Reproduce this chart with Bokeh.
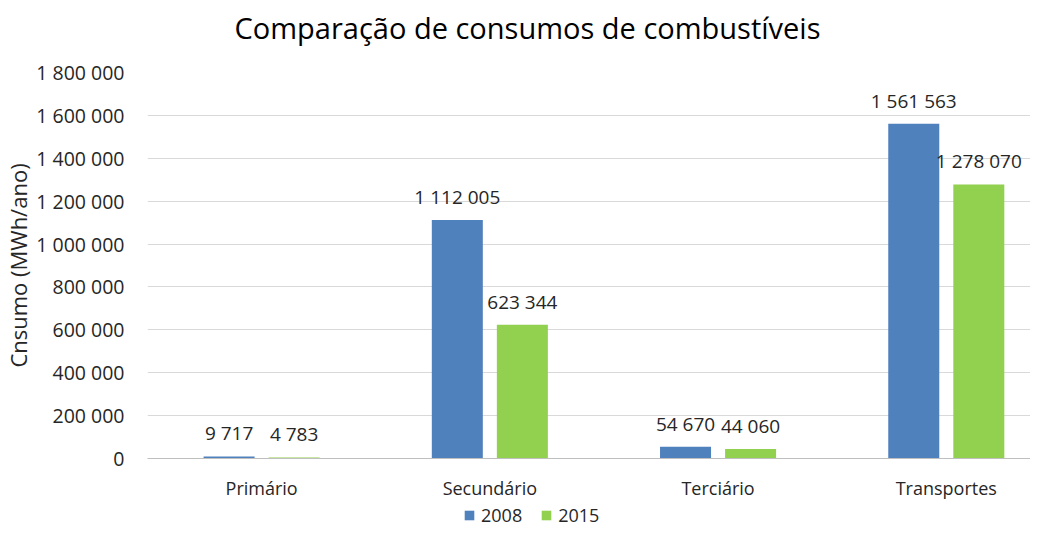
from bokeh.plotting import figure
from bokeh.layouts import column
from bokeh.models import ColumnDataSource, FixedTicker, Legend, LegendItem, Range1d, Label
from bokeh.core.properties import value
from bokeh.embed import file_html
from bokeh.resources import INLINE

title_text = "Comparação de consumos de combustíveis"
y_axis_label = "Cnsumo (MWh/ano)"
categories = ["Primário", "Secundário", "Terciário", "Transportes"]
years = ["2008", "2015"]
values_2008 = [9717, 1112005, 54670, 1561563]
values_2015 = [4783, 623344, 44060, 1278070]
y_ticks = [0, 200000, 400000, 600000, 800000, 1000000, 1200000, 1400000, 1600000, 1800000]
y_tick_labels = ["0", "200 000", "400 000", "600 000", "800 000", "1 000 000",
                 "1 200 000", "1 400 000", "1 600 000", "1 800 000"]

FONT = "Open Sans"
TEXT = "#262626"
colors = ["#4F81BD", "#92D050"]

def fmt(v):
    return f"{v:,}".replace(",", " ")

def strip(h):
    f = figure(width=1030, height=h, x_range=Range1d(-0.5, 3.369), y_range=Range1d(0, 1800000),
               output_backend="svg", toolbar_location=None,
               x_axis_location=None, y_axis_location=None,
               min_border_left=0, min_border_right=0, min_border_top=0, min_border_bottom=0)
    f.outline_line_color = None
    f.xgrid.grid_line_color = None
    f.ygrid.grid_line_color = None
    return f

# strip above the chart carrying the title
head = strip(50)
head.add_layout(Label(x=380, y=23, x_units="screen", y_units="screen", text=title_text,
                      text_align="center", text_baseline="middle", text_font=FONT,
                      text_font_size="29px", text_color="#000000"))

p = figure(width=1030, height=453,
           x_range=Range1d(-0.5, 3.369), y_range=Range1d(0, 1800000),
           output_backend="svg", toolbar_location=None,
           min_border_left=100, min_border_right=0,
           min_border_top=22, min_border_bottom=45)
p.outline_line_color = None
p.background_fill_color = "white"
p.border_fill_color = "white"

# strip below the chart carrying the legend
leg = strip(24)

xs = list(range(len(categories)))
offset = 0.1425
bw = 0.2235
leg_renderers = []
for k, (yr, vals) in enumerate(zip(years, [values_2008, values_2015])):
    dx = -offset if k == 0 else offset
    src = ColumnDataSource(dict(x=[x + dx for x in xs], top=vals,
                                lab=[fmt(v) for v in vals]))
    p.vbar(x="x", top="top", width=bw, source=src, fill_color=colors[k], line_color=None)
    p.text(x="x", y="top", text="lab", source=src, text_align="center",
           text_baseline="alphabetic", y_offset=-23, text_font=value(FONT),
           text_font_size="19px", text_color=TEXT)
    # legend swatch source only (not drawn in the strip)
    leg_renderers.append(leg.vbar(x="x", top="top", width=bw, source=src,
                                  fill_color=colors[k], line_color=None, visible=False))

# axes
p.xaxis.ticker = FixedTicker(ticks=xs)
p.xaxis.major_label_overrides = {i: c for i, c in enumerate(categories)}
p.xaxis.major_tick_line_color = None
p.xaxis.minor_tick_line_color = None
p.xaxis.axis_line_color = "#BFBFBF"
p.xaxis.axis_line_width = 1
p.xaxis.major_label_text_font = FONT
p.xaxis.major_label_text_font_size = "18px"
p.xaxis.major_label_text_color = TEXT
p.xaxis.major_label_standoff = 11

p.yaxis.ticker = FixedTicker(ticks=y_ticks)
p.yaxis.major_label_overrides = {t: l for t, l in zip(y_ticks, y_tick_labels)}
p.yaxis.axis_line_color = None
p.yaxis.major_tick_line_color = None
p.yaxis.minor_tick_line_color = None
p.yaxis.major_label_text_font = FONT
p.yaxis.major_label_text_font_size = "19.5px"
p.yaxis.major_label_text_color = TEXT
p.yaxis.major_label_standoff = 17
p.yaxis.axis_label = y_axis_label
p.yaxis.axis_label_text_font = FONT
p.yaxis.axis_label_text_font_size = "22px"
p.yaxis.axis_label_text_font_style = "normal"
p.yaxis.axis_label_text_color = TEXT
p.yaxis.axis_label_standoff = 0

p.xgrid.grid_line_color = None
p.ygrid.ticker = FixedTicker(ticks=y_ticks[1:])
p.ygrid.grid_line_color = "#D9D9D9"
p.ygrid.grid_line_width = 1

legend = Legend(items=[LegendItem(label=yr, renderers=[r]) for yr, r in zip(years, leg_renderers)],
                orientation="horizontal", location=(316, 0),
                label_text_font=FONT, label_text_font_size="18px", label_text_color=TEXT,
                glyph_width=12, glyph_height=12, label_standoff=6, spacing=18,
                padding=0, margin=0, border_line_color=None, background_fill_alpha=0,
                inactive_fill_alpha=0, click_policy="none",
                label_height=20)
leg.add_layout(legend, "center")

layout = column(head, p, leg, spacing=0)
open("out.html", "w").write(file_html(layout, INLINE))
